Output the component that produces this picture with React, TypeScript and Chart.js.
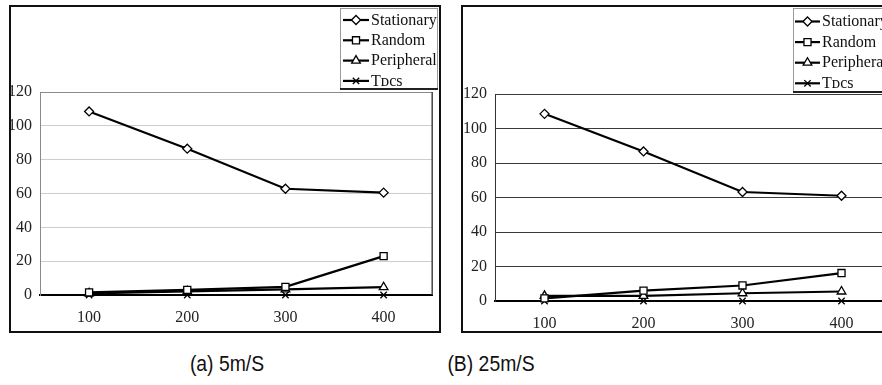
import React, { useEffect, useRef } from "react";
import { Chart, registerables } from "chart.js";
import { drawPoint } from "chart.js/helpers";

Chart.register(...registerables);

// Category axis: node count
const loads = ["100", "200", "300", "400"];

// Series names and their marker shapes
const seriesNames = ["Stationary", "Random", "Peripheral", "Tᴅcs"];
const markerStyles = ["rectRot", "rect", "triangle", "crossRot"];
const markerSizes = [4.5, 5, 5, 4.5];

// (a) 5 m/s
const stationary5 = [108.5, 86.5, 62.8, 60.5];
const random5 = [1.5, 3, 4.8, 23];
const peripheral5 = [1, 2.2, 3.3, 4.6];
const tdcs5 = [0, 0, 0, 0];

// (B) 25 m/s
const stationary25 = [108.5, 86.7, 63.2, 61];
const random25 = [1.5, 6, 9, 16.2];
const peripheral25 = [3, 3, 4.5, 5.5];
const tdcs25 = [0, 0, 0, 0];

// Y axis range
const yMin = 0;
const yMax = 120;
const yStep = 20;

const serif = "'Liberation Serif', 'DejaVu Serif', serif";

// Boxed legend drawn in the top-right corner: line sample + marker + name
const boxLegend = {
  id: "boxLegend",
  afterDraw(chart: any, _args: any, opts: any) {
    const { ctx } = chart;
    const { x, y, w, h, firstRow, rowH, lineX0, lineX1, textX } = opts;
    ctx.save();
    ctx.fillStyle = "#fff";
    ctx.fillRect(x, y, w, h);
    ctx.strokeStyle = "#9a9a9a";
    ctx.lineWidth = 1;
    ctx.strokeRect(x + 0.5, y + 0.5, w, h);
    ctx.strokeStyle = "#222";
    ctx.lineWidth = 2;
    ctx.beginPath();
    ctx.moveTo(x, y + h + 1);
    ctx.lineTo(x + w + 1, y + h + 1);
    ctx.stroke();

    chart.data.datasets.forEach((ds: any, i: number) => {
      const cy = y + firstRow + i * rowH;
      ctx.strokeStyle = "#000";
      ctx.lineWidth = 2.2;
      ctx.beginPath();
      ctx.moveTo(lineX0, cy);
      ctx.lineTo(lineX1, cy);
      ctx.stroke();
      ctx.fillStyle = "#fff";
      ctx.lineWidth = 1.3;
      drawPoint(
        ctx,
        { pointStyle: ds.pointStyle, rotation: 0, radius: ds.pointRadius, borderWidth: 1.3 } as any,
        (lineX0 + lineX1) / 2,
        cy
      );
      ctx.fillStyle = "#111";
      ctx.font = `16px ${serif}`;
      ctx.textBaseline = "middle";
      ctx.textAlign = "left";
      ctx.fillText(ds.label, textX, cy + 0.5);
    });
    ctx.restore();
  },
};

// Right-hand edge of the plot area
const plotFrame = {
  id: "plotFrame",
  beforeDatasetsDraw(chart: any, _args: any, opts: any) {
    if (!opts.right) return;
    const { ctx, chartArea } = chart;
    ctx.save();
    ctx.strokeStyle = opts.right;
    ctx.lineWidth = 1.5;
    ctx.beginPath();
    ctx.moveTo(chartArea.right - 0.5, chartArea.top);
    ctx.lineTo(chartArea.right - 0.5, chartArea.bottom);
    ctx.stroke();
    ctx.restore();
  },
};

type PanelProps = {
  series: number[][];
  left: number;
  top: number;
  width: number;
  height: number;
  yWidth: number;
  xHeight: number;
  padTop: number;
  padRight: number;
  gridColor: string;
  topGridColor: string;
  axisColor: string;
  frameRight: string | null;
  legend: any;
};

function Panel(p: PanelProps) {
  const ref = useRef<HTMLCanvasElement>(null);

  useEffect(() => {
    let chart: Chart | null = null;
    let cancelled = false;
    const build = () => {
      if (cancelled || !ref.current) return;
      chart = new Chart(ref.current, {
        type: "line",
        data: {
          labels: loads,
          datasets: p.series.map((values, i) => ({
            label: seriesNames[i],
            data: values,
            borderColor: "#000",
            borderWidth: 2.2,
            pointStyle: markerStyles[i] as any,
            pointRadius: markerSizes[i],
            pointBorderWidth: 1.3,
            pointBorderColor: "#000",
            pointBackgroundColor: "#fff",
            tension: 0,
            clip: false as any,
          })),
        },
        options: {
          animation: false,
          responsive: false,
          events: [],
          layout: { padding: { top: p.padTop, right: p.padRight, left: 0, bottom: 0 } },
          plugins: {
            legend: { display: false },
            tooltip: { enabled: false },
            boxLegend: p.legend,
            plotFrame: { right: p.frameRight },
          } as any,
          scales: {
            x: {
              type: "category",
              offset: true,
              grid: { display: false, drawTicks: false },
              border: { display: true, color: "#000", width: 2 },
              ticks: { font: { family: serif, size: 16 }, color: "#222", padding: 13, maxRotation: 0 },
              afterFit: (s: any) => {
                s.height = p.xHeight;
              },
            },
            y: {
              min: yMin,
              max: yMax,
              ticks: { stepSize: yStep, font: { family: serif, size: 16 }, color: "#222", padding: 8 },
              grid: {
                drawTicks: false,
                color: (c: any) =>
                  c.tick && c.tick.value === yMax
                    ? p.topGridColor
                    : c.tick && c.tick.value === 0
                    ? "rgba(0,0,0,0)"
                    : p.gridColor,
                lineWidth: 1,
              },
              border: { display: true, color: p.axisColor, width: 1 },
              afterFit: (s: any) => {
                s.width = p.yWidth;
              },
            },
          },
        },
        plugins: [plotFrame, boxLegend],
      });
    };
    const fonts = (document as any).fonts;
    if (fonts && fonts.load) {
      fonts.load(`16px ${serif}`, "Stationary 0123456789").then(build, build);
    } else {
      build();
    }
    return () => {
      cancelled = true;
      if (chart) chart.destroy();
    };
  }, []);

  return (
    <div
      style={{
        position: "absolute",
        left: p.left,
        top: p.top,
        width: p.width,
        height: p.height,
        border: "2px solid #111",
        background: "#fff",
      }}
    >
      <canvas ref={ref} width={p.width} height={p.height} style={{ display: "block" }} />
    </div>
  );
}

const captionStyle: React.CSSProperties = {
  position: "absolute",
  top: 351,
  fontFamily: "'Liberation Sans', Arial, sans-serif",
  fontSize: 22,
  color: "#111",
  whiteSpace: "nowrap",
  transform: "translateX(-50%) scaleX(0.88)",
};

export default function App() {
  return (
    <div
      style={{
        position: "fixed",
        left: 0,
        top: 0,
        width: 882,
        height: 385,
        overflow: "hidden",
        background: "#fff",
      }}
    >
      {/* keeps the serif face in use so the canvas text can pick it up */}
      <span style={{ position: "absolute", left: -1000, fontFamily: serif }}>0</span>
      <Panel
        series={[stationary5, random5, peripheral5, tdcs5]}
        left={9}
        top={5}
        width={428}
        height={324}
        yWidth={29}
        xHeight={36}
        padTop={85}
        padRight={0}
        gridColor="#cdcdcd"
        topGridColor="#8a8a8a"
        axisColor="#8a8a8a"
        frameRight="#444"
        legend={{ x: 329, y: 1, w: 97, h: 80, firstRow: 12, rowH: 20.3, lineX0: 332, lineX1: 358, textX: 360 }}
      />
      <Panel
        series={[stationary25, random25, peripheral25, tdcs25]}
        left={461}
        top={5}
        width={436}
        height={324}
        yWidth={32}
        xHeight={30}
        padTop={87}
        padRight={8}
        gridColor="#3a3a3a"
        topGridColor="#3a3a3a"
        axisColor="#333"
        frameRight={null}
        legend={{ x: 330, y: 1, w: 97, h: 83, firstRow: 13.5, rowH: 20.6, lineX0: 332, lineX1: 357, textX: 359 }}
      />
      <div style={{ ...captionStyle, left: 227 }}>(a) 5m/S</div>
      <div style={{ ...captionStyle, left: 491 }}>(B) 25m/S</div>
    </div>
  );
}
